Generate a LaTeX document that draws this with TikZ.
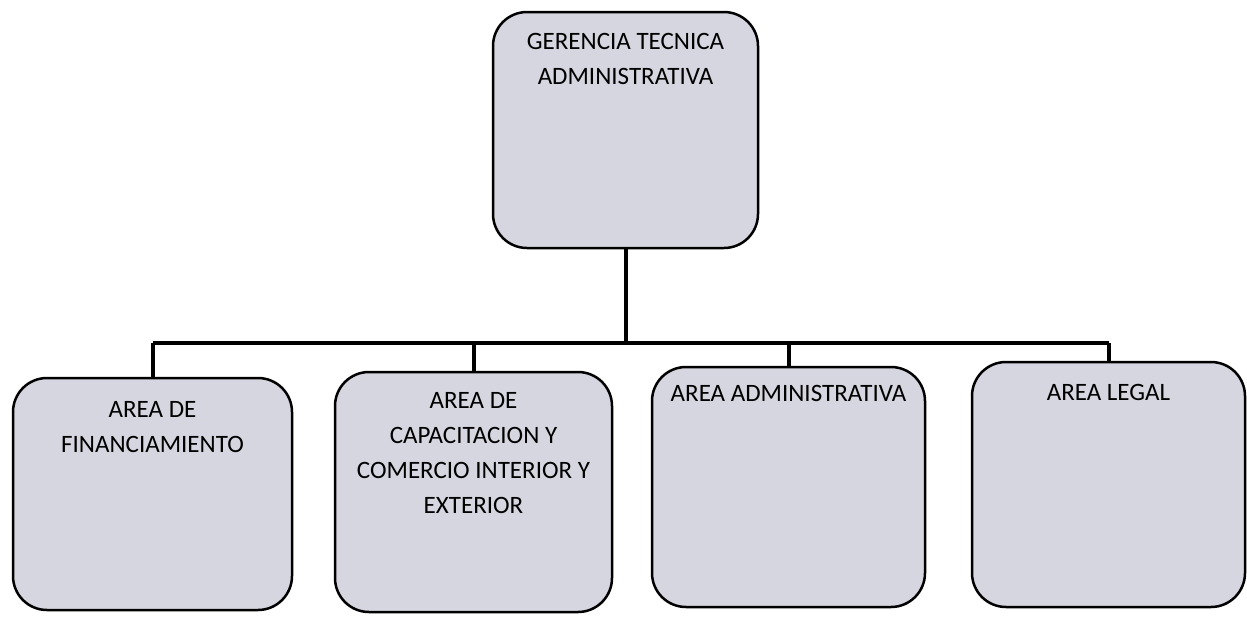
\documentclass[tikz,border=0pt]{standalone}
\usepackage{fontspec}
\setmainfont{Carlito}
\usetikzlibrary{positioning}
\definecolor{boxgray}{RGB}{214,214,224}
\begin{document}
\begin{tikzpicture}[x=1pt,y=-1pt,
  area/.style={draw=black, line width=2.5pt, fill=boxgray, rounded corners=34pt, inner sep=0pt, outer sep=0pt},
  areatext/.style={align=center, inner sep=0pt, font=\fontsize{25}{35}\selectfont},
  link/.style={draw=black, line width=4pt}]
\useasboundingbox (0,0) rectangle (1247,619);

\node[area, minimum width=265pt, minimum height=236pt] (gerencia) at (625.5,130) {};
\node[area, minimum width=279pt, minimum height=232pt] (financ) at (152.5,494) {};
\node[area, minimum width=277pt, minimum height=240pt] (capac) at (473.5,492) {};
\node[area, minimum width=273pt, minimum height=240pt] (admin) at (788.5,487) {};
\node[area, minimum width=273pt, minimum height=245pt] (legal) at (1108.5,484.5) {};

\node[areatext, below=21pt of gerencia.north] (gerenciaT) {GERENCIA TECNICA\\ADMINISTRATIVA};
\node[areatext, below=23pt of financ.north] (financT) {AREA DE\\FINANCIAMIENTO};
\node[areatext, below=20pt of capac.north] (capacT) {AREA DE\\CAPACITACION Y\\COMERCIO INTERIOR Y\\EXTERIOR};
\node[areatext, below=18pt of admin.north] (adminT) {AREA ADMINISTRATIVA};
\node[areatext, below=22pt of legal.north] (legalT) {AREA LEGAL};

\coordinate (bus) at (628,343);
\draw[link] (gerencia.south) -- (gerencia.south |- bus);
\draw[link] (financ.north |- bus) -- (legal.north |- bus);
\draw[link] (financ.north |- bus) -- (financ.north);
\draw[link] (capac.north |- bus) -- (capac.north);
\draw[link] (admin.north |- bus) -- (admin.north);
\draw[link] (legal.north |- bus) -- (legal.north);
\end{tikzpicture}
\end{document}
